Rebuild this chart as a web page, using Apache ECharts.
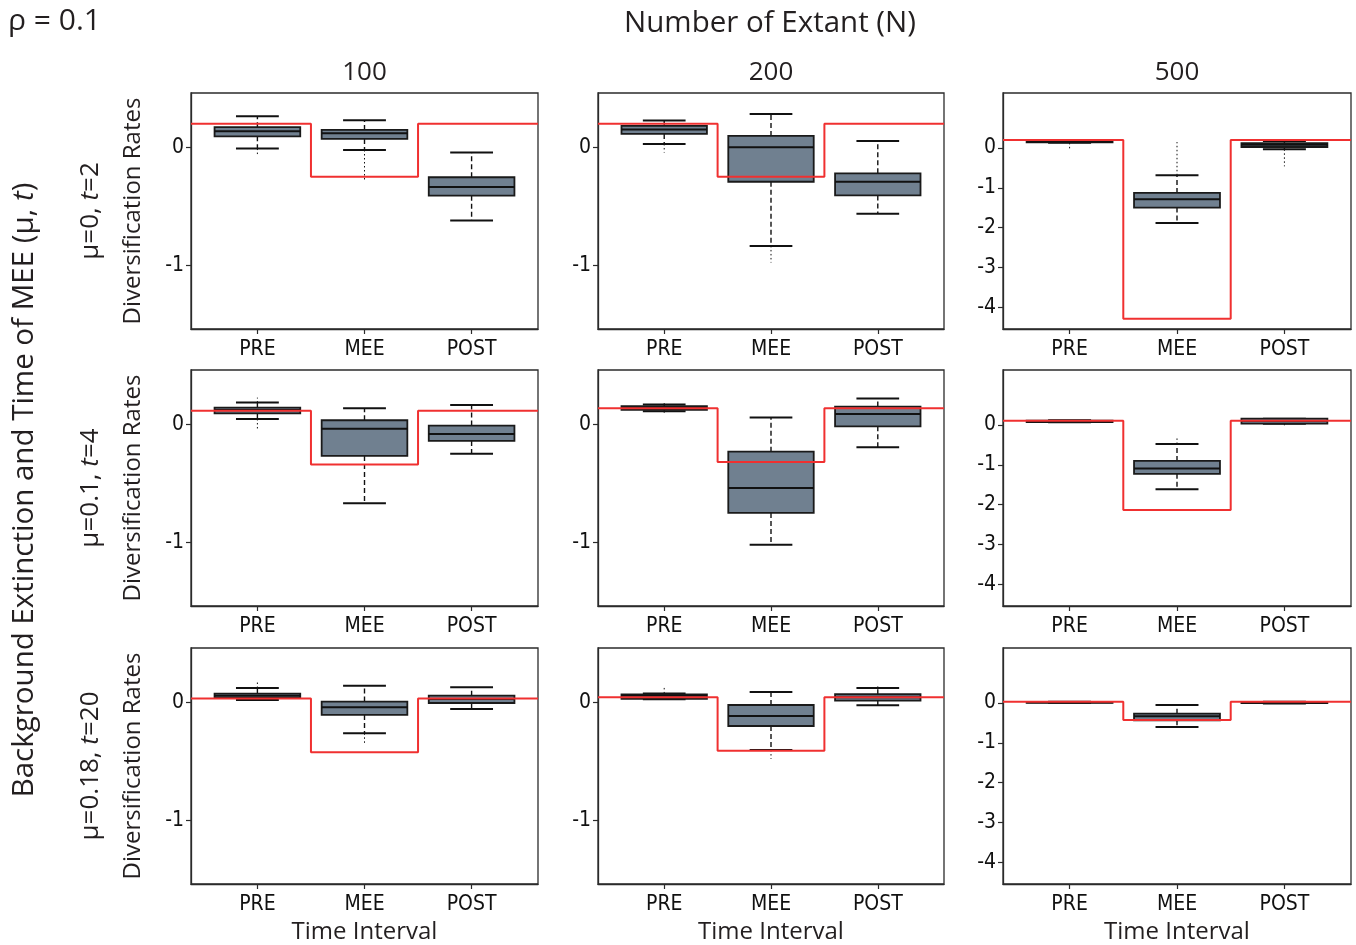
<!DOCTYPE html>
<html>
<head>
<meta charset="utf-8">
<title>Diversification rates by interval</title>
<script src="https://cdn.jsdelivr.net/npm/echarts@6/dist/echarts.min.js"></script>
<style>
  html, body { margin: 0; padding: 0; background: #ffffff; }
  #chart { width: 1356px; height: 945px; }
</style>
</head>
<body>
<div id="chart"></div>
<script>
// Time intervals on every x axis
const categories = ['PRE', 'MEE', 'POST'];
// Number of extant lineages (columns)
const extantN = ['100', '200', '500'];
// Background extinction mu and MEE time t (rows)
const muValues = ['0', '0.1', '0.18'];
const tValues = ['2', '4', '20'];

// y tick labels for the two y scales
const ticksSmall = [0, -1];
const ticksLarge = [0, -1, -2, -3, -4];

// Box statistics per interval: [lowest outlier, lower whisker, Q1, median, Q3, upper whisker, highest outlier]
const box_mu0_N100 = [
  [-0.076, -0.011, 0.093, 0.136, 0.170, 0.263, 0.263],
  [-0.290, -0.023, 0.071, 0.119, 0.147, 0.229, 0.229],
  [-0.621, -0.621, -0.410, -0.336, -0.254, -0.045, -0.045]
];
const box_mu0_N200 = [
  [-0.045, 0.028, 0.113, 0.150, 0.181, 0.227, 0.227],
  [-0.977, -0.836, -0.292, 0.000, 0.096, 0.283, 0.283],
  [-0.564, -0.564, -0.408, -0.292, -0.221, 0.054, 0.054]
];
const box_mu0_N500 = [
  [-0.030, 0.130, 0.140, 0.160, 0.185, 0.200, 0.200],
  [-1.879, -1.879, -1.495, -1.286, -1.127, -0.685, 0.150],
  [-0.460, -0.033, 0.025, 0.083, 0.125, 0.175, 0.175]
];
const box_mu01_N100 = [
  [-0.040, 0.045, 0.093, 0.121, 0.141, 0.184, 0.226],
  [-0.669, -0.669, -0.268, -0.037, 0.034, 0.136, 0.136],
  [-0.249, -0.249, -0.141, -0.082, -0.011, 0.164, 0.164]
];
const box_mu01_N200 = [
  [0.093, 0.110, 0.122, 0.139, 0.153, 0.167, 0.184],
  [-1.020, -1.020, -0.751, -0.541, -0.232, 0.057, 0.057],
  [-0.195, -0.195, -0.017, 0.088, 0.150, 0.218, 0.218]
];
const box_mu01_N500 = [
  [0.070, 0.070, 0.075, 0.090, 0.110, 0.120, 0.120],
  [-1.610, -1.610, -1.225, -1.090, -0.900, -0.475, -0.333],
  [-0.050, 0.030, 0.033, 0.100, 0.158, 0.160, 0.160]
];
const box_mu018_N100 = [
  [0.020, 0.020, 0.037, 0.056, 0.073, 0.121, 0.186],
  [-0.345, -0.263, -0.107, -0.042, 0.006, 0.141, 0.141],
  [-0.056, -0.056, -0.006, 0.028, 0.056, 0.127, 0.127]
];
const box_mu018_N200 = [
  [0.025, 0.025, 0.030, 0.055, 0.066, 0.075, 0.140],
  [-0.480, -0.405, -0.201, -0.116, -0.023, 0.088, 0.088],
  [-0.025, -0.025, 0.014, 0.042, 0.068, 0.122, 0.147]
];
const box_mu018_N500 = [
  [0.005, 0.008, 0.012, 0.020, 0.028, 0.030, 0.030],
  [-0.600, -0.600, -0.435, -0.335, -0.268, -0.050, -0.050],
  [-0.010, -0.010, 0.000, 0.015, 0.025, 0.030, 0.030]
];

// Simulated (true) diversification rate per interval
const true_mu0_N100 = [0.20, -0.25, 0.20];
const true_mu0_N200 = [0.20, -0.25, 0.20];
const true_mu0_N500 = [0.20, -4.28, 0.20];
const true_mu01_N100 = [0.115, -0.34, 0.115];
const true_mu01_N200 = [0.135, -0.32, 0.135];
const true_mu01_N500 = [0.108, -2.13, 0.108];
const true_mu018_N100 = [0.031, -0.424, 0.031];
const true_mu018_N200 = [0.042, -0.411, 0.042];
const true_mu018_N500 = [0.033, -0.427, 0.033];

const boxes = [
  [box_mu0_N100, box_mu0_N200, box_mu0_N500],
  [box_mu01_N100, box_mu01_N200, box_mu01_N500],
  [box_mu018_N100, box_mu018_N200, box_mu018_N500]
];
const trueRates = [
  [true_mu0_N100, true_mu0_N200, true_mu0_N500],
  [true_mu01_N100, true_mu01_N200, true_mu01_N500],
  [true_mu018_N100, true_mu018_N200, true_mu018_N500]
];

// ---- layout ----
const colLeft = [191, 598, 1003];
const colWidth = [347, 346, 348];
const rowTop = [93, 370, 648];
const plotHeight = 236;
const X_MIN = 0.38, X_MAX = 3.62;
const yRangeSmall = [-1.54, 0.46];
const yRangeLarge = [-4.54, 1.38];

const TICK_FONT = '"Liberation Sans Narrow", "DejaVu Sans Condensed", "Roboto Condensed", sans-serif';
const TITLE_FONT = '"Open Sans", "Noto Sans", sans-serif';
const INK = '#231f20';
const BOX_FILL = '#708090';

const grids = [], xAxes = [], yAxes = [], series = [];

function renderBox(params, api) {
  const x = api.value(0);
  const v = [1, 2, 3, 4, 5, 6, 7].map(i => api.value(i));
  const c = api.coord([x, 0])[0];
  const y = v.map(val => api.coord([x, val])[1]);
  const half = api.size([0.8, 0])[0] / 2;
  const stapleHalf = api.size([0.4, 0])[0] / 2;
  const black = '#111111';
  const children = [];
  // outliers beyond the whiskers
  if (Math.abs(y[0] - y[1]) > 0.5) {
    children.push({ type: 'line', shape: { x1: c, y1: y[1], x2: c, y2: y[0] },
      style: { stroke: black, lineWidth: 1, lineDash: [1.5, 2.5] } });
  }
  if (Math.abs(y[6] - y[5]) > 0.5) {
    children.push({ type: 'line', shape: { x1: c, y1: y[5], x2: c, y2: y[6] },
      style: { stroke: black, lineWidth: 1, lineDash: [1.5, 2.5] } });
  }
  // dashed whiskers
  children.push({ type: 'line', shape: { x1: c, y1: y[2], x2: c, y2: y[1] },
    style: { stroke: black, lineWidth: 1.4, lineDash: [5, 3] } });
  children.push({ type: 'line', shape: { x1: c, y1: y[4], x2: c, y2: y[5] },
    style: { stroke: black, lineWidth: 1.4, lineDash: [5, 3] } });
  // staples
  children.push({ type: 'line', shape: { x1: c - stapleHalf, y1: y[1], x2: c + stapleHalf, y2: y[1] },
    style: { stroke: black, lineWidth: 2 } });
  children.push({ type: 'line', shape: { x1: c - stapleHalf, y1: y[5], x2: c + stapleHalf, y2: y[5] },
    style: { stroke: black, lineWidth: 2 } });
  // box
  children.push({ type: 'rect', shape: { x: c - half, y: y[4], width: 2 * half, height: Math.max(y[2] - y[4], 1) },
    style: { fill: BOX_FILL, stroke: '#1a1a1a', lineWidth: 1.8 } });
  // median
  children.push({ type: 'line', shape: { x1: c - half, y1: y[3], x2: c + half, y2: y[3] },
    style: { stroke: black, lineWidth: 2 } });
  return { type: 'group', children };
}

for (let r = 0; r < 3; r++) {
  for (let cI = 0; cI < 3; cI++) {
    const idx = r * 3 + cI;
    const large = cI === 2;
    const yr = large ? yRangeLarge : yRangeSmall;
    const ticks = large ? ticksLarge : ticksSmall;
    grids.push({
      left: colLeft[cI], top: rowTop[r], width: colWidth[cI], height: plotHeight,
      show: true, borderColor: '#2b2b2b', borderWidth: 1.3, backgroundColor: '#ffffff'
    });
    xAxes.push({
      type: 'value', gridIndex: idx, min: X_MIN, max: X_MAX,
      axisLine: { show: true, onZero: false, lineStyle: { color: '#2b2b2b', width: 1.3 } },
      axisTick: { show: true, inside: false, length: 5, customValues: [1, 2, 3],
        lineStyle: { color: '#2b2b2b', width: 1.2 } },
      axisLabel: { show: true, customValues: [1, 2, 3], margin: 10,
        formatter: v => categories[Math.round(v) - 1] || '',
        fontFamily: TICK_FONT, fontSize: 21, color: '#111' },
      splitLine: { show: false }
    });
    yAxes.push({
      type: 'value', gridIndex: idx, min: yr[0], max: yr[1],
      axisLine: { show: true, onZero: false, lineStyle: { color: '#2b2b2b', width: 1.3 } },
      axisTick: { show: true, inside: false, length: 5, customValues: ticks,
        lineStyle: { color: '#2b2b2b', width: 1.2 } },
      axisLabel: { show: true, customValues: ticks, margin: 7,
        formatter: v => String(Math.round(v)),
        fontFamily: TICK_FONT, fontSize: 21, color: '#111' },
      splitLine: { show: false }
    });
    const boxData = boxes[r][cI].map((b, i) => [i + 1].concat(b));
    series.push({
      type: 'custom', xAxisIndex: idx, yAxisIndex: idx,
      renderItem: renderBox, data: boxData, z: 2,
      encode: { x: 0, y: [1, 2, 3, 4, 5, 6, 7] }, silent: true
    });
    const t = trueRates[r][cI];
    series.push({
      type: 'line', xAxisIndex: idx, yAxisIndex: idx, z: 5,
      data: [[X_MIN, t[0]], [1.5, t[0]], [1.5, t[1]], [2.5, t[1]], [2.5, t[2]], [X_MAX, t[2]]],
      showSymbol: false, symbol: 'none', silent: true, animation: false,
      lineStyle: { color: '#f03030', width: 2 }
    });
  }
}

// ---- text annotations ----
const graphics = [];
function txt(x, y, text, size, opts = {}) {
  graphics.push(Object.assign({
    type: 'text', x, y, silent: true,
    style: Object.assign({
      text, fill: INK, fontFamily: TITLE_FONT, fontSize: size,
      textAlign: 'center', textVerticalAlign: 'middle'
    }, opts.style || {})
  }, opts.el || {}));
}

txt(8, 21, 'ρ = 0.1', 30, { style: { textAlign: 'left' } });
txt(770, 24, 'Number of Extant (N)', 29.5);
for (let cI = 0; cI < 3; cI++) {
  const cx = colLeft[cI] + colWidth[cI] / 2;
  txt(cx, 73, extantN[cI], 26);
  txt(cx, 932, 'Time Interval', 24);
}

const richBase = {
  n: { fontFamily: TITLE_FONT, fontSize: 26, fill: INK },
  i: { fontFamily: TITLE_FONT, fontSize: 26, fill: INK, fontStyle: 'italic' }
};
for (let r = 0; r < 3; r++) {
  const cy = rowTop[r] + plotHeight / 2;
  txt(133, cy, 'Diversification Rates', 24, { el: { rotation: Math.PI / 2 } });
  graphics.push({
    type: 'text', x: 91, y: cy, rotation: Math.PI / 2, silent: true,
    style: {
      text: '{n|μ=' + muValues[r] + ', }{i|t}{n|=' + tValues[r] + '}',
      rich: richBase, textAlign: 'center', textVerticalAlign: 'middle'
    }
  });
}
graphics.push({
  type: 'text', x: 25, y: 490, rotation: Math.PI / 2, silent: true,
  style: {
    text: '{n|Background Extinction and Time of MEE (μ, }{i|t}{n|)}',
    rich: {
      n: { fontFamily: TITLE_FONT, fontSize: 29.5, fill: INK },
      i: { fontFamily: TITLE_FONT, fontSize: 29.5, fill: INK, fontStyle: 'italic' }
    },
    textAlign: 'center', textVerticalAlign: 'middle'
  }
});

const chart = echarts.init(document.getElementById('chart'), null, { renderer: 'canvas' });
chart.setOption({
  backgroundColor: '#ffffff',
  animation: false,
  grid: grids,
  xAxis: xAxes,
  yAxis: yAxes,
  series,
  graphic: graphics
});
</script>
</body>
</html>
